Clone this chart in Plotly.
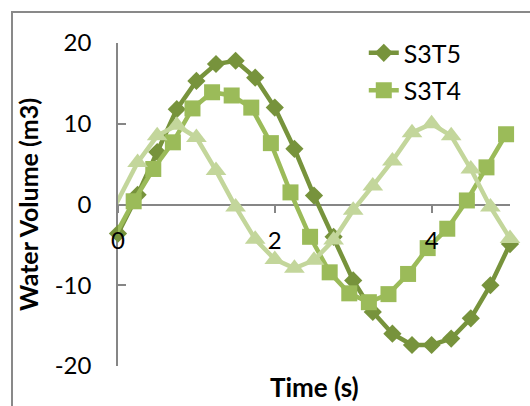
import plotly.graph_objects as go

# Sample times (s) and water volumes (m3) for each series
time_s3t5 = [0.0, 0.25, 0.5, 0.75, 1.0, 1.25, 1.5, 1.75, 2.0, 2.25, 2.5,
             2.75, 3.0, 3.25, 3.5, 3.75, 4.0, 4.25, 4.5, 4.75, 5.0]
vol_s3t5 = [-3.6, 1.2, 6.5, 11.8, 15.3, 17.4, 17.8, 15.7, 12.0, 6.9, 1.1,
            -4.0, -9.4, -13.3, -16.0, -17.4, -17.4, -16.6, -14.1, -10.0, -4.9]

time_s3t4 = [-0.05, 0.2, 0.45, 0.7, 0.95, 1.2, 1.45, 1.7, 1.95, 2.2, 2.45,
             2.7, 2.95, 3.2, 3.45, 3.7, 3.95, 4.2, 4.45, 4.7, 4.95]
vol_s3t4 = [-4.1, 0.4, 4.4, 7.7, 11.9, 13.9, 13.5, 12.0, 7.6, 1.5, -4.0,
            -8.4, -11.0, -12.1, -11.1, -8.6, -5.4, -3.0, 0.5, 4.6, 8.7]

time_s3t3 = [-0.25, 0.25, 0.5, 0.75, 1.0, 1.25, 1.5, 1.75, 2.0, 2.25, 2.5,
             2.75, 3.0, 3.25, 3.5, 3.75, 4.0, 4.25, 4.5, 4.75, 5.0]
vol_s3t3 = [-4.2, 5.2, 8.5, 9.8, 8.3, 4.2, -0.3, -4.3, -6.8, -7.9, -6.9,
            -4.4, -0.7, 2.3, 5.4, 8.9, 10.0, 8.5, 4.4, -0.3, -4.2]

x_ticks = [0, 2, 4]
x_tick_labels = ["0", "2", "4"]
y_ticks = [-20, -10, 0, 10, 20]
y_tick_labels = ["-20", "-10", "0", "10", "20"]
x_range = [0, 5]
y_range = [-20, 20]

FONT = "Lato"
AXIS_GREY = "#868686"

series = [
    dict(name="S3T5", t=time_s3t5, v=vol_s3t5, color="#77933C",
         symbol="diamond", size=14, legend=True),
    dict(name="S3T4", t=time_s3t4, v=vol_s3t4, color="#9BBB59",
         symbol="square", size=16, legend=True),
    dict(name="S3T3", t=time_s3t3, v=vol_s3t3, color="#C3D69B",
         symbol="triangle-up", size=18, legend=False),
]

fig = go.Figure()
for s in series:
    inside = [i for i, t in enumerate(s["t"]) if x_range[0] <= t <= x_range[1]]
    first = inside[0]
    # segment running in from before t=0, clipped at the plot edge
    if first > 0:
        fig.add_trace(go.Scatter(
            x=s["t"][first - 1:first + 1], y=s["v"][first - 1:first + 1],
            mode="lines", line=dict(color=s["color"], width=4.5),
            showlegend=False, hoverinfo="skip", legendgroup=s["name"],
        ))
    fig.add_trace(go.Scatter(
        x=[s["t"][i] for i in inside], y=[s["v"][i] for i in inside],
        name=s["name"], mode="lines+markers", legendgroup=s["name"],
        showlegend=s["legend"], cliponaxis=False,
        line=dict(color=s["color"], width=4.5),
        marker=dict(symbol=s["symbol"], size=s["size"], color=s["color"],
                    line=dict(width=0)),
    ))

fig.update_layout(
    width=530, height=406,
    margin=dict(l=118, r=20, t=43, b=40),
    paper_bgcolor="white", plot_bgcolor="white",
    font=dict(family=FONT, size=24, color="black"),
    showlegend=True,
    legend=dict(x=0.627, y=1.04, xanchor="left", yanchor="top",
                bgcolor="rgba(0,0,0,0)", font=dict(family=FONT, size=25),
                traceorder="grouped", tracegroupgap=2),
    xaxis=dict(range=x_range, tickvals=x_ticks, ticktext=x_tick_labels,
               showgrid=False,
               showline=False, zeroline=False, ticks="outside", ticklen=7,
               tickwidth=1.5, tickcolor=AXIS_GREY, anchor="free",
               position=0.5, layer="above traces", ticklabelstandoff=8,
               tickfont=dict(family=FONT, size=24, color="black")),
    yaxis=dict(range=y_range, tickvals=y_ticks, ticktext=y_tick_labels,
               showgrid=False,
               showline=True, linecolor=AXIS_GREY, linewidth=1.5,
               ticks="inside", ticklen=8, tickwidth=1.5, tickcolor=AXIS_GREY,
               zeroline=True, zerolinecolor=AXIS_GREY, zerolinewidth=1.5,
               layer="below traces", ticklabelstandoff=20,
               tickfont=dict(family=FONT, size=24, color="black"),
               title=dict(text="<b>Water Volume (m3)</b>", standoff=9,
                          font=dict(family=FONT, size=25, color="black"))),
    annotations=[dict(text="<b>Time (s)</b>", xref="paper", yref="paper",
                      x=0.5, y=-0.065, xanchor="center", yanchor="middle",
                      showarrow=False,
                      font=dict(family=FONT, size=26, color="black"))],
    shapes=[dict(type="rect", xref="paper", yref="paper",
                 x0=-0.2704, x1=1.08, y0=-0.2, y1=1.096,
                 line=dict(color="#898989", width=2), layer="below")],
)

fig.write_html("out.html")
